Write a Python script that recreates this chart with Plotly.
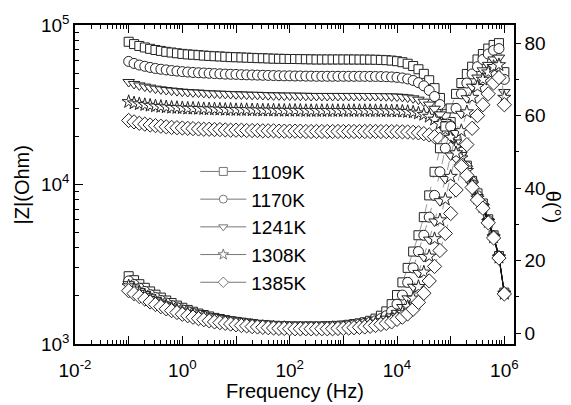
import plotly.graph_objects as go

freq = [0.1, 0.126, 0.158, 0.2, 0.251, 0.316, 0.398, 0.501, 0.631, 0.794,
        1, 1.26, 1.58, 2, 2.51, 3.16, 3.98, 5.01, 6.31, 7.94,
        10, 12.6, 15.8, 20, 25.1, 31.6, 39.8, 50.1, 63.1, 79.4,
        100, 126, 158, 200, 251, 316, 398, 501, 631, 794,
        1000, 1260, 1580, 2000, 2510, 3160, 3980, 5010, 6310, 7940,
        10000, 12600, 15800, 20000, 25100, 31600, 39800, 50100, 63100, 79400,
        100000, 126000, 158000, 200000, 251000, 316000, 398000, 501000, 631000, 794000,
        1000000]

temps = ["1109K", "1170K", "1241K", "1308K", "1385K"]

z_1109 = [78500, 75900, 73900, 72300, 70900, 69700, 68800, 67900, 67200, 66500,
          65900, 65400, 65100, 64700, 64300, 64000, 63700, 63500, 63200, 62900,
          62800, 62600, 62400, 62200, 62000, 61900, 61700, 61500, 61400, 61300,
          61200, 61200, 61100, 61000, 60900, 60800, 60800, 60800, 60800, 60800,
          60800, 60780, 60760, 60730, 60700, 60650, 60560, 60410, 60190, 59840,
          59300, 58450, 57170, 55300, 52800, 49400, 45050, 40200, 34890, 29600,
          24620, 20100, 16300, 13130, 10530, 8800, 7600, 6050, 4800, 3560,
          2100]
z_1170 = [59100, 57400, 56100, 55100, 54200, 53400, 52800, 52300, 51800, 51400,
          51000, 50700, 50400, 50200, 50000, 49800, 49600, 49400, 49200, 49100,
          49000, 48800, 48700, 48600, 48500, 48400, 48300, 48200, 48100, 48000,
          48000, 47900, 47900, 47800, 47800, 47700, 47700, 47700, 47700, 47700,
          47700, 47690, 47680, 47670, 47650, 47620, 47580, 47510, 47400, 47230,
          46960, 46550, 45910, 44920, 43500, 41540, 38900, 35620, 31720, 27570,
          23380, 19430, 15930, 12950, 10420, 8500, 7450, 5950, 4750, 3530,
          2090]
z_1241 = [43900, 42700, 41800, 41100, 40500, 39900, 39500, 39100, 38800, 38500,
          38200, 38000, 37800, 37700, 37500, 37300, 37200, 37100, 37000, 36900,
          36800, 36700, 36600, 36500, 36500, 36400, 36300, 36200, 36200, 36100,
          36100, 36100, 36000, 36000, 35900, 35900, 35900, 35900, 35900, 35900,
          35900, 35900, 35900, 35900, 35880, 35870, 35850, 35820, 35770, 35700,
          35580, 35410, 35120, 34700, 34040, 33060, 31700, 29860, 27520, 24630,
          21530, 18360, 15320, 12600, 10260, 8350, 7350, 5900, 4720, 3510,
          2080]
z_1308 = [33000, 32400, 32000, 31600, 31300, 31000, 30800, 30600, 30400, 30300,
          30200, 30000, 30000, 29900, 29800, 29700, 29700, 29600, 29500, 29500,
          29400, 29400, 29400, 29300, 29300, 29200, 29200, 29200, 29100, 29100,
          29100, 29100, 29100, 29000, 29000, 29000, 29000, 29000, 29000, 29000,
          29000, 29000, 29000, 29000, 29000, 29000, 28970, 28960, 28930, 28900,
          28840, 28740, 28590, 28360, 28010, 27460, 26700, 25600, 24060, 22050,
          19730, 17190, 14640, 12220, 10040, 8200, 7250, 5850, 4680, 3490,
          2070]
z_1385 = [25200, 24700, 24200, 23900, 23600, 23400, 23200, 23000, 22800, 22700,
          22600, 22500, 22400, 22300, 22200, 22200, 22100, 22100, 22000, 21900,
          21900, 21900, 21800, 21800, 21800, 21700, 21700, 21700, 21600, 21600,
          21600, 21600, 21600, 21500, 21500, 21500, 21500, 21500, 21500, 21500,
          21500, 21500, 21500, 21500, 21500, 21500, 21500, 21480, 21470, 21460,
          21430, 21390, 21330, 21230, 21080, 20840, 20480, 19930, 19190, 18120,
          16710, 15150, 13320, 11420, 9590, 8000, 7100, 5750, 4620, 3460,
          2060]

th_1109 = [15.7, 14.6, 13.5, 12.5, 11.5, 10.6, 9.8, 9.0, 8.3, 7.6,
           7.0, 6.4, 5.9, 5.4, 5.0, 4.6, 4.2, 3.9, 3.6, 3.3,
           3.1, 2.9, 2.7, 2.5, 2.3, 2.2, 2.1, 2.0, 1.9, 1.9,
           1.8, 1.8, 1.8, 1.8, 1.8, 1.8, 1.8, 1.9, 1.9, 2.0,
           2.1, 2.3, 2.5, 2.7, 3.0, 3.4, 4.0, 4.8, 6.0, 8.0,
           10.5, 14.0, 18.0, 22.5, 27.0, 32.0, 38.0, 44.5, 51.0, 57.0,
           62.0, 66.0, 69.0, 71.5, 73.5, 75.5, 77.0, 78.5, 79.5, 80.0,
           72.0]
th_1170 = [14.4, 13.4, 12.4, 11.5, 10.6, 9.8, 9.0, 8.3, 7.6, 7.0,
           6.4, 5.9, 5.4, 5.0, 4.6, 4.2, 3.9, 3.6, 3.3, 3.1,
           2.9, 2.7, 2.5, 2.3, 2.2, 2.1, 2.0, 1.9, 1.8, 1.8,
           1.7, 1.7, 1.7, 1.7, 1.7, 1.7, 1.7, 1.7, 1.8, 1.8,
           1.9, 2.1, 2.3, 2.5, 2.7, 3.0, 3.4, 4.0, 4.8, 6.0,
           8.0, 10.5, 14.0, 18.0, 22.5, 27.0, 32.0, 38.0, 44.5, 51.0,
           57.0, 62.0, 66.0, 69.0, 71.5, 73.5, 75.5, 77.0, 78.0, 78.5,
           70.0]
th_1241 = [13.5, 12.6, 11.6, 10.8, 9.9, 9.1, 8.4, 7.7, 7.1, 6.5,
           6.0, 5.5, 5.1, 4.6, 4.3, 4.0, 3.6, 3.4, 3.1, 2.8,
           2.7, 2.5, 2.3, 2.2, 2.0, 1.9, 1.8, 1.7, 1.6, 1.6,
           1.5, 1.5, 1.5, 1.5, 1.5, 1.5, 1.5, 1.6, 1.6, 1.6,
           1.7, 1.8, 2.0, 2.2, 2.4, 2.6, 2.9, 3.3, 4.0, 4.6,
           5.6, 7.2, 9.6, 12.8, 16.6, 21.0, 25.8, 30.8, 36.4, 42.5,
           49.0, 55.2, 60.5, 64.8, 68.0, 70.5, 72.5, 74.0, 75.5, 76.0,
           66.5]
th_1308 = [13.0, 12.1, 11.2, 10.4, 9.5, 8.8, 8.1, 7.5, 6.9, 6.3,
           5.8, 5.3, 4.9, 4.5, 4.2, 3.8, 3.5, 3.2, 3.0, 2.7,
           2.6, 2.4, 2.2, 2.1, 1.9, 1.8, 1.7, 1.6, 1.5, 1.5,
           1.4, 1.4, 1.4, 1.4, 1.4, 1.4, 1.4, 1.4, 1.5, 1.5,
           1.5, 1.6, 1.7, 1.9, 2.2, 2.5, 2.7, 3.0, 3.4, 4.0,
           4.7, 5.7, 7.3, 9.6, 12.8, 16.8, 21.2, 26.0, 31.2, 36.9,
           43.2, 49.7, 55.8, 61.0, 65.0, 68.0, 70.0, 72.0, 73.5, 74.0,
           65.0]
th_1385 = [11.7, 10.9, 10.1, 9.4, 8.6, 7.9, 7.3, 6.7, 6.2, 5.7,
           5.2, 4.8, 4.4, 4.0, 3.7, 3.4, 3.1, 2.9, 2.7, 2.5,
           2.3, 2.1, 2.0, 1.8, 1.7, 1.6, 1.5, 1.4, 1.3, 1.3,
           1.2, 1.2, 1.2, 1.2, 1.2, 1.2, 1.2, 1.2, 1.2, 1.3,
           1.3, 1.4, 1.5, 1.6, 1.7, 1.9, 2.1, 2.4, 2.7, 3.1,
           3.8, 4.4, 5.3, 6.6, 8.5, 11.0, 14.4, 18.4, 22.8, 27.5,
           33.0, 39.5, 46.0, 52.0, 56.5, 60.0, 63.0, 66.0, 69.0, 70.5,
           63.0]

z_series = [z_1109, z_1170, z_1241, z_1308, z_1385]
th_series = [th_1109, th_1170, th_1241, th_1308, th_1385]

x_major = [1e-2, 1e-1, 1, 10, 100, 1e3, 1e4, 1e5, 1e6]
x_major_text = ["10<sup>-2</sup>", "", "10<sup>0</sup>", "", "10<sup>2</sup>", "",
                "10<sup>4</sup>", "", "10<sup>6</sup>"]
z_major = [1e3, 1e4, 1e5]
z_major_text = ["10<sup>3</sup>", "10<sup>4</sup>", "10<sup>5</sup>"]
th_major = [0, 20, 40, 60, 80]
th_minor = [10, 30, 50, 70]

x_minor = [m * 10.0 ** d for d in range(-2, 6) for m in range(2, 10)]
z_minor = [m * 10.0 ** d for d in range(3, 5) for m in range(2, 10)]

symbols = ["square", "circle", "triangle-down", "star", "diamond"]
sizes = [9, 10, 10, 10, 11]
FONT = "Liberation Sans, Arial, sans-serif"

fig = go.Figure()
for z, sym, s, name in zip(z_series, symbols, sizes, temps):
    fig.add_trace(go.Scatter(
        x=freq, y=z, mode="lines+markers", name=name, showlegend=False,
        line=dict(color="#111111", width=1),
        marker=dict(symbol=sym, size=s, color="white",
                    line=dict(color="#222222", width=1)),
        yaxis="y"))
for th, sym, s, name in zip(th_series, symbols, sizes, temps):
    fig.add_trace(go.Scatter(
        x=freq, y=th, mode="lines+markers", name=name, showlegend=False,
        line=dict(color="#999999", width=1, dash="dash"),
        marker=dict(symbol=sym, size=s, color="white",
                    line=dict(color="#222222", width=1)),
        yaxis="y2"))
for sym, name in zip(symbols, temps):
    fig.add_trace(go.Scatter(
        x=[None], y=[None], mode="lines+markers", name=name, showlegend=True,
        line=dict(color="#777777", width=1),
        marker=dict(symbol=sym, size=8, color="white",
                    line=dict(color="#777777", width=1)),
        yaxis="y"))

fig.update_layout(
    width=571, height=405,
    margin=dict(l=75, r=57, t=20, b=61),
    paper_bgcolor="white", plot_bgcolor="white",
    font=dict(family=FONT, size=19, color="black"),
    xaxis=dict(type="log", range=[-2, 6.18], tickmode="array",
               tickvals=x_major, ticktext=x_major_text,
               ticks="inside", ticklen=8, tickwidth=1.2, tickcolor="black",
               ticklabelstandoff=8,
               showline=True, linewidth=1.5, linecolor="black", mirror="ticks",
               showgrid=False, zeroline=False,
               minor=dict(tickmode="array", tickvals=x_minor, ticks="inside",
                          ticklen=4, tickwidth=1, tickcolor="black", showgrid=False),
               tickfont=dict(size=19)),
    yaxis=dict(type="log", range=[3, 5], tickmode="array",
               tickvals=z_major, ticktext=z_major_text,
               ticks="inside", ticklen=8, tickwidth=1.2, tickcolor="black",
               showline=True, linewidth=1.5, linecolor="black",
               showgrid=False, zeroline=False,
               minor=dict(tickmode="array", tickvals=z_minor, ticks="inside",
                          ticklen=4, tickwidth=1, tickcolor="black", showgrid=False),
               tickfont=dict(size=19)),
    yaxis2=dict(overlaying="y", side="right", range=[-3, 85], tickmode="array",
                tickvals=th_major, ticks="outside", ticklen=5, tickwidth=1.2,
                tickcolor="black", showline=True, linewidth=1.5, linecolor="black",
                showgrid=False, zeroline=False,
                minor=dict(tickmode="array", tickvals=th_minor, ticks="outside",
                           ticklen=3, tickwidth=1, tickcolor="black", showgrid=False),
                tickfont=dict(size=19)),
    legend=dict(x=0.274, y=0.6, xanchor="left", yanchor="top",
                bgcolor="rgba(0,0,0,0)", font=dict(size=19), itemwidth=46,
                tracegroupgap=0),
    annotations=[
        dict(text="Frequency (Hz)", xref="paper", yref="paper", x=0.5, y=-0.148,
             showarrow=False, font=dict(size=20), xanchor="center", yanchor="middle"),
        dict(text="|Z|(Ohm)", xref="paper", yref="paper", x=-0.121, y=0.5,
             showarrow=False, font=dict(size=20), textangle=-90,
             xanchor="center", yanchor="middle"),
        dict(text="θ(°)", xref="paper", yref="paper", x=1.089, y=0.43,
             showarrow=False, font=dict(size=20), textangle=90,
             xanchor="center", yanchor="middle"),
    ],
)

fig.write_html("out.html")
